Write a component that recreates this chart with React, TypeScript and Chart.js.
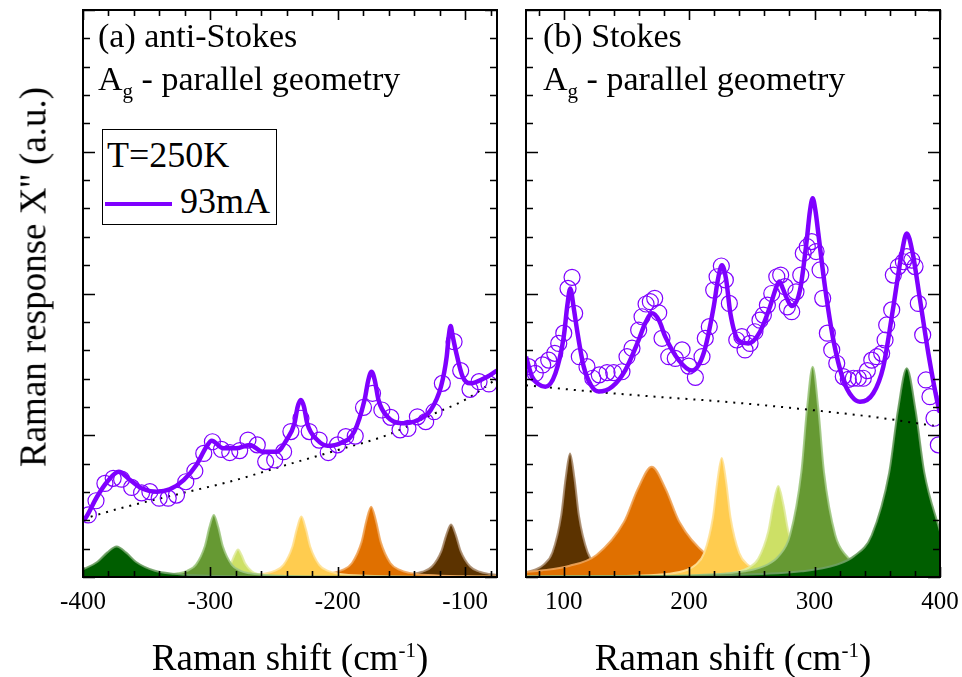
import React, { useEffect, useRef } from 'react';
import { Chart, registerables } from 'chart.js';

Chart.register(...registerables);

// ---------- axis / tick labels ----------
const xTicksLeft = [-400, -300, -200, -100];
const xTicksRight = [100, 200, 300, 400];
const xRangeLeft = [-400, -75];
const xRangeRight = [70, 400];
const yRange = [0, 20];

// ---------- (a) anti-Stokes ----------
const dataLeftX = [-395.8, -389.8, -382.8, -376.3, -369.7, -361.8, -354, -347.5, -340.2, -333.1, -326.6, -319.3, -312.2, -305.2, -298.4, -291.3, -284.8, -277, -270.5, -263.2, -256.6, -249.5, -242.5, -236.8, -228.9, -222.4, -214.6, -207.5, -200.2, -193.7, -186.3, -179.8, -172.7, -165.4, -158.4, -151.1, -144.9, -137.5, -131, -124.4, -117.9, -108.7, -103.5, -96.2, -89.1, -81.3];
const dataLeftY = [2.19, 2.69, 3.30, 3.48, 3.45, 3.16, 2.97, 3.01, 2.78, 2.78, 2.89, 3.36, 3.74, 4.36, 4.77, 4.50, 4.39, 4.46, 4.83, 4.66, 4.07, 4.13, 4.42, 5.13, 5.60, 5.13, 4.83, 4.39, 4.66, 4.95, 4.97, 5.98, 6.48, 5.89, 5.63, 5.19, 5.24, 5.65, 5.48, 5.83, 6.83, 8.30, 7.28, 6.62, 6.89, 6.81];

const fitLeftX = [-400, -398, -389, -381, -372, -363, -354, -342, -332, -321, -311, -303, -299, -290, -280, -269, -259, -248, -240, -234, -231.5, -229, -226.5, -224, -216, -208, -198, -187, -179, -176, -173.5, -171, -168, -161, -150, -137, -127, -119, -114.5, -113, -111.4, -109.8, -107.5, -102, -96, -85, -75];
const fitLeftY = [1.98, 2.08, 2.83, 3.36, 3.71, 3.42, 3.13, 3.01, 3.09, 3.42, 3.95, 4.60, 4.81, 4.54, 4.54, 4.66, 4.42, 4.42, 4.85, 5.42, 6.0, 6.24, 6.0, 5.42, 4.83, 4.63, 4.72, 5.13, 6.24, 6.95, 7.24, 6.95, 6.24, 5.65, 5.42, 5.54, 5.89, 6.71, 7.77, 8.45, 8.85, 8.5, 8.01, 7.07, 6.83, 7.01, 7.28];

const baseLeftX = [-400, -371, -321, -285, -239, -200, -161, -127, -98, -75];
const baseLeftY = [2.05, 2.42, 2.97, 3.36, 3.97, 4.48, 5.01, 5.71, 6.3, 7.0];

const dkGreenLX = [-400, -388.6, -381.1, -373.6, -366.1, -358.6, -343.6, -328.6, -313.6, -283.6, -223.6, -133.6, -75];
const dkGreenLY = [0.26, 0.54, 0.86, 1.08, 0.86, 0.54, 0.22, 0.11, 0.064, 0.029, 0.011, 0.004, 0.003];
const mdGreenLX = [-400, -367.3, -339.3, -325.3, -318.3, -311.3, -304.3, -300.8, -297.3, -293.8, -290.3, -283.3, -276.3, -269.3, -255.3, -227.3, -185.3, -75];
const mdGreenLY = [0.010, 0.022, 0.059, 0.129, 0.219, 0.438, 1.095, 1.752, 2.19, 1.752, 1.095, 0.438, 0.219, 0.129, 0.059, 0.022, 0.0085, 0.002];
const ltGreenLX = [-400, -366.3, -333.3, -311.3, -300.3, -294.8, -289.3, -283.8, -281.05, -278.3, -275.55, -272.8, -267.3, -261.8, -256.3, -245.3, -223.3, -190.3, -75];
const ltGreenLY = [0.002, 0.0038, 0.0096, 0.026, 0.057, 0.097, 0.194, 0.485, 0.776, 0.97, 0.776, 0.485, 0.194, 0.097, 0.057, 0.026, 0.0096, 0.0038, 0.001];
const yellowLX = [-400, -340.6, -298.6, -270.6, -256.6, -249.6, -242.6, -235.6, -232.1, -228.6, -225.1, -221.6, -214.6, -207.6, -200.6, -186.6, -158.6, -116.6, -75];
const yellowLY = [0.004, 0.0083, 0.021, 0.0575, 0.125, 0.213, 0.426, 1.065, 1.704, 2.13, 1.704, 1.065, 0.426, 0.213, 0.125, 0.0575, 0.021, 0.0083, 0.005];
const orangeLX = [-400, -293.8, -248.8, -218.8, -203.8, -196.3, -188.8, -181.3, -177.55, -173.8, -170.05, -166.3, -158.8, -151.3, -143.8, -128.8, -98.8, -75];
const orangeLY = [0.003, 0.0097, 0.0246, 0.067, 0.146, 0.248, 0.496, 1.24, 1.984, 2.48, 1.984, 1.24, 0.496, 0.248, 0.146, 0.067, 0.0246, 0.014];
const brownLX = [-400, -231.1, -186.1, -156.1, -141.1, -133.6, -126.1, -118.6, -114.85, -111.1, -107.35, -103.6, -96.1, -88.6, -81.1, -75];
const brownLY = [0.001, 0.0072, 0.0183, 0.05, 0.109, 0.185, 0.37, 0.925, 1.48, 1.85, 1.48, 0.925, 0.37, 0.185, 0.109, 0.076];

// ---------- (b) Stokes ----------
const dataRightX = [72.1, 77.4, 83.3, 88.1, 92.9, 96.1, 100.1, 103.5, 106.7, 108.8, 112.5, 118.6, 123.2, 128.4, 134.6, 139.9, 146.5, 150.5, 154.5, 159.8, 162.5, 165.7, 169.1, 172.6, 175.8, 178.4, 183.8, 189, 194.4, 199.7, 205, 210.3, 212.9, 216.1, 219.6, 222.3, 225.7, 228.9, 232.1, 238, 242, 244.6, 248.6, 252.5, 256.5, 259.2, 262.4, 265.9, 269.9, 273, 276.5, 278.3, 281.8, 285.2, 289, 291, 294.2, 297.7, 301.2, 304.4, 306.5, 310.2, 313.7, 317.7, 322.9, 326.9, 330.9, 334.9, 338.9, 342.1, 345.6, 349.6, 353.5, 356.2, 357.5, 361.5, 362.8, 366.8, 370.8, 373.5, 377.5, 380.1, 382.7, 386.2, 388.8, 392, 395.2, 398.7];
const dataRightY = [7.42, 7.18, 7.48, 7.65, 7.89, 8.24, 8.60, 10.18, 10.57, 9.30, 7.77, 7.42, 7.01, 7.13, 7.21, 7.21, 7.24, 7.77, 8.07, 8.71, 9.18, 9.63, 9.71, 9.83, 9.32, 8.42, 7.77, 7.71, 8.01, 7.44, 7.04, 7.77, 8.42, 8.83, 10.12, 10.59, 10.97, 10.48, 9.65, 8.36, 8.48, 8.01, 8.24, 8.65, 9.06, 9.24, 9.59, 10.0, 10.59, 10.65, 10.24, 9.53, 9.36, 10.06, 10.65, 11.42, 11.65, 11.83, 11.48, 10.83, 9.83, 8.60, 8.01, 7.54, 7.07, 6.97, 7.01, 7.01, 7.01, 7.28, 7.65, 7.77, 7.89, 8.36, 8.89, 9.42, 10.65, 10.95, 11.12, 11.30, 11.18, 10.95, 9.65, 8.54, 6.95, 6.36, 5.60, 4.66];

const fitRightX = [70, 74.8, 80, 85.4, 93.4, 100.1, 103, 105.3, 108, 110.7, 116, 122, 128, 138.6, 149.2, 159.8, 165, 170.4, 176, 181, 191.7, 202.3, 211.6, 219.6, 223, 226.2, 229.5, 232.9, 239.2, 247.2, 256.5, 264.5, 268.5, 271.9, 274.5, 277.3, 281.8, 288.4, 293.8, 296.3, 298.5, 300.8, 303, 308.3, 315, 322.9, 330, 336.2, 346.8, 354.8, 362.8, 369.5, 373.5, 378.2, 384.1, 390.7, 398.7, 400];
const fitRightY = [7.77, 7.07, 6.8, 6.71, 7.18, 8.48, 9.6, 10.18, 9.5, 8.71, 7.42, 6.75, 6.54, 6.71, 7.30, 8.36, 8.95, 9.30, 9.05, 8.48, 7.65, 7.28, 7.89, 9.53, 10.5, 11.0, 10.5, 9.3, 8.36, 8.24, 8.65, 9.53, 10.1, 10.42, 10.2, 9.89, 9.56, 10.12, 11.89, 12.9, 13.36, 12.9, 12.12, 10.24, 8.36, 6.95, 6.35, 6.18, 6.48, 7.42, 9.53, 11.42, 12.12, 11.42, 9.77, 7.89, 6.01, 5.8];

const baseRightX = [70, 130.6, 173.1, 228.9, 291, 349.6, 400];
const baseRightY = [6.76, 6.51, 6.36, 6.18, 5.92, 5.63, 5.3];

const brownRX = [70, 77.1, 84.1, 91.1, 98.1, 101.6, 105.1, 108.6, 112.1, 119.1, 126.1, 133.1, 147.1, 175.1, 217.1, 400];
const brownRY = [0.167, 0.256, 0.436, 0.872, 2.18, 3.488, 4.36, 3.488, 2.18, 0.872, 0.436, 0.256, 0.118, 0.043, 0.017, 0.002];
const orangeRX = [70, 82.2, 104.2, 126.2, 148.2, 159.2, 170.2, 181.2, 192.2, 214.2, 236.2, 258.2, 302.2, 390.2, 400];
const orangeRY = [0.179, 0.229, 0.389, 0.778, 1.945, 3.112, 3.89, 3.112, 1.945, 0.778, 0.389, 0.229, 0.105, 0.0385, 0.035];
const yellowRX = [70, 114, 156, 184, 198, 205, 212, 219, 222.5, 226, 229.5, 233, 240, 247, 254, 268, 296, 338, 400];
const yellowRY = [0.007, 0.0164, 0.0416, 0.113, 0.247, 0.42, 0.84, 2.1, 3.36, 4.2, 3.36, 2.1, 0.84, 0.42, 0.247, 0.113, 0.0416, 0.0164, 0.006];
const ltGreenRX = [70, 143.1, 191.1, 223.1, 239.1, 247.1, 255.1, 263.1, 267.1, 271.1, 275.1, 279.1, 287.1, 295.1, 303.1, 319.1, 351.1, 400];
const ltGreenRY = [0.005, 0.0125, 0.0318, 0.0867, 0.189, 0.321, 0.642, 1.605, 2.568, 3.21, 2.568, 1.605, 0.642, 0.321, 0.189, 0.0867, 0.0318, 0.0123];
const mdGreenRX = [70, 154.5, 208.5, 244.5, 262.5, 271.5, 280.5, 289.5, 294, 298.5, 303, 307.5, 316.5, 325.5, 334.5, 352.5, 388.5, 400];
const mdGreenRY = [0.0115, 0.029, 0.0735, 0.2, 0.436, 0.742, 1.484, 3.71, 5.936, 7.42, 5.936, 3.71, 1.484, 0.742, 0.436, 0.2, 0.0735, 0.058];
const dkGreenRX = [70, 149.5, 233.5, 289.5, 317.5, 331.5, 345.5, 359.5, 366.5, 373.5, 380.5, 387.5, 400];
const dkGreenRY = [0.0156, 0.0287, 0.0729, 0.199, 0.433, 0.736, 1.472, 3.68, 5.888, 7.36, 5.888, 3.68, 1.607];

// ---------- styles ----------
const PURPLE = '#7f00ff';
const SERIF = '"Liberation Serif", "Times New Roman", Times, serif';
const COLORS = {
  dkGreen: ['#005e00', 'rgba(110,160,100,0.9)'],
  mdGreen: ['#669933', 'rgba(160,200,130,0.9)'],
  ltGreen: ['#cde066', 'rgba(225,235,160,0.9)'],
  yellow: ['#ffcc4f', 'rgba(255,225,150,0.9)'],
  orange: ['#e07000', 'rgba(240,165,90,0.9)'],
  brown: ['#5c3300', 'rgba(170,140,110,0.9)'],
};

const zip = (xs: number[], ys: number[]) => xs.map((x, i) => ({ x, y: ys[i] }));

function peak(xs: number[], ys: number[], c: string[], order: number) {
  return {
    data: zip(xs, ys),
    showLine: true,
    fill: 'origin',
    backgroundColor: c[0],
    borderColor: c[1],
    borderWidth: 2,
    pointRadius: 0,
    cubicInterpolationMode: 'monotone',
    order,
  };
}

function common(fitX: number[], fitY: number[], dX: number[], dY: number[], bX: number[], bY: number[]) {
  return [
    {
      data: zip(dX, dY), showLine: false, pointRadius: 8, pointStyle: 'circle',
      pointBackgroundColor: 'rgba(0,0,0,0)', pointBorderColor: PURPLE, pointBorderWidth: 1.2,
      borderColor: PURPLE, order: 0,
    },
    {
      data: zip(fitX, fitY), showLine: true, borderColor: PURPLE, borderWidth: 4.5,
      pointRadius: 0, cubicInterpolationMode: 'monotone', fill: false, order: 1,
    },
    {
      data: zip(bX, bY), showLine: true, borderColor: '#000', borderWidth: 2, borderDash: [2, 6],
      pointRadius: 0, cubicInterpolationMode: 'monotone', fill: false, order: 2,
    },
  ];
}

function framePlugin(minorStep: number, majorStep: number) {
  return {
    id: 'frameTicks',
    afterDraw(chart: any) {
      const { ctx, chartArea, scales } = chart;
      const { left, right, top, bottom } = chartArea;
      const xs = scales.x;
      const ys = scales.y;
      ctx.save();
      ctx.strokeStyle = '#000';
      ctx.lineWidth = 1.6;
      ctx.beginPath();
      const start = Math.ceil(xs.min / minorStep) * minorStep;
      for (let v = start; v <= xs.max + 1e-9; v += minorStep) {
        const px = Math.round(xs.getPixelForValue(v)) + 0.5;
        const len = Math.abs(v % majorStep) < 1e-9 ? 10 : 6;
        ctx.moveTo(px, bottom); ctx.lineTo(px, bottom - len);
        ctx.moveTo(px, top); ctx.lineTo(px, top + len);
      }
      for (let v = ys.min; v <= ys.max + 1e-9; v += 1) {
        const py = Math.round(ys.getPixelForValue(v)) + 0.5;
        const len = Math.abs(v % 5) < 1e-9 ? 12 : 7;
        ctx.moveTo(left, py); ctx.lineTo(left + len, py);
        ctx.moveTo(right, py); ctx.lineTo(right - len, py);
      }
      ctx.stroke();
      ctx.lineWidth = 2;
      ctx.strokeRect(left, top, right - left, bottom - top);
      ctx.restore();
    },
  };
}

function makeConfig(datasets: any[], range: number[], ticks: number[], padLeft: number, padRight: number) {
  return {
    type: 'scatter',
    data: { datasets },
    options: {
      animation: false,
      responsive: false,
      events: [],
      layout: { padding: { left: padLeft, right: padRight, top: 10, bottom: 0 } },
      plugins: { legend: { display: false }, tooltip: { enabled: false } },
      scales: {
        x: {
          type: 'linear',
          min: range[0],
          max: range[1],
          grid: { display: false, drawTicks: false },
          border: { display: false },
          ticks: {
            color: '#000',
            font: { family: SERIF, size: 25 },
            padding: 10,
            maxRotation: 0,
            autoSkip: false,
            callback: (v: any) => String(v),
          },
          afterBuildTicks: (s: any) => { s.ticks = ticks.map((v) => ({ value: v })); },
          afterFit: (s: any) => { s.height = 100; s.paddingLeft = 0; s.paddingRight = 0; },
        },
        y: { type: 'linear', min: yRange[0], max: yRange[1], display: false },
      },
    },
    plugins: [framePlugin(20, 100)],
  };
}

export default function App() {
  const leftRef = useRef<HTMLCanvasElement>(null);
  const rightRef = useRef<HTMLCanvasElement>(null);

  useEffect(() => {
    const leftSets = [
      ...common(fitLeftX, fitLeftY, dataLeftX, dataLeftY, baseLeftX, baseLeftY),
      peak(dkGreenLX, dkGreenLY, COLORS.dkGreen, 3),
      peak(mdGreenLX, mdGreenLY, COLORS.mdGreen, 4),
      peak(ltGreenLX, ltGreenLY, COLORS.ltGreen, 5),
      peak(yellowLX, yellowLY, COLORS.yellow, 6),
      peak(orangeLX, orangeLY, COLORS.orange, 7),
      peak(brownLX, brownLY, COLORS.brown, 8),
    ];
    const rightSets = [
      ...common(fitRightX, fitRightY, dataRightX, dataRightY, baseRightX, baseRightY),
      peak(dkGreenRX, dkGreenRY, COLORS.dkGreen, 3),
      peak(mdGreenRX, mdGreenRY, COLORS.mdGreen, 4),
      peak(ltGreenRX, ltGreenRY, COLORS.ltGreen, 5),
      peak(yellowRX, yellowRY, COLORS.yellow, 6),
      peak(orangeRX, orangeRY, COLORS.orange, 7),
      peak(brownRX, brownRY, COLORS.brown, 8),
    ];
    const c1 = new Chart(leftRef.current as HTMLCanvasElement, makeConfig(leftSets, xRangeLeft, xTicksLeft, 83, 13) as any);
    const c2 = new Chart(rightRef.current as HTMLCanvasElement, makeConfig(rightSets, xRangeRight, xTicksRight, 16, 22) as any);
    return () => { c1.destroy(); c2.destroy(); };
  }, []);

  const abs = (extra: React.CSSProperties): React.CSSProperties => ({ position: 'absolute', whiteSpace: 'nowrap', ...extra });

  return (
    <div style={{ position: 'absolute', left: 0, top: 0, width: 962, height: 677, overflow: 'hidden', background: '#fff', fontFamily: SERIF, color: '#000' }}>
      <canvas ref={leftRef} width={510} height={677} style={{ position: 'absolute', left: 0, top: 0, width: 510, height: 677 }} />
      <canvas ref={rightRef} width={452} height={677} style={{ position: 'absolute', left: 510, top: 0, width: 452, height: 677 }} />

      {/* y axis title */}
      <div style={abs({ left: 32.5, top: 276.5, transform: 'translate(-50%, -50%) rotate(-90deg)', fontSize: 37, lineHeight: '37px' })}>
        Raman response X'' (a.u.)
      </div>

      {/* x axis titles */}
      <div style={abs({ left: 290, top: 639, transform: 'translateX(-50%)', fontSize: 37, lineHeight: '37px' })}>
        Raman shift (cm<span style={{ fontSize: 21, position: 'relative', top: -13 }}>-1</span>)
      </div>
      <div style={abs({ left: 733, top: 639, transform: 'translateX(-50%)', fontSize: 37, lineHeight: '37px' })}>
        Raman shift (cm<span style={{ fontSize: 21, position: 'relative', top: -13 }}>-1</span>)
      </div>

      {/* panel labels */}
      <div style={abs({ left: 98, top: 19, fontSize: 34, lineHeight: '34px' })}>(a) anti-Stokes</div>
      <div style={abs({ left: 98, top: 62, fontSize: 34, lineHeight: '34px' })}>
        A<span style={{ fontSize: 21, position: 'relative', top: 8 }}>g</span> - parallel geometry
      </div>
      <div style={abs({ left: 543, top: 19, fontSize: 34, lineHeight: '34px' })}>(b) Stokes</div>
      <div style={abs({ left: 543, top: 62, fontSize: 34, lineHeight: '34px' })}>
        A<span style={{ fontSize: 21, position: 'relative', top: 8 }}>g</span> - parallel geometry
      </div>

      {/* legend */}
      <div style={abs({ left: 102, top: 129, width: 175, height: 96, border: '1px solid #000', boxSizing: 'border-box', background: '#fff' })} />
      <div style={abs({ left: 107, top: 137, fontSize: 36, lineHeight: '36px' })}>T=250K</div>
      <div style={abs({ left: 105, top: 201.5, width: 67, height: 4, background: PURPLE })} />
      <div style={abs({ left: 180, top: 183, fontSize: 36, lineHeight: '36px' })}>93mA</div>
    </div>
  );
}
